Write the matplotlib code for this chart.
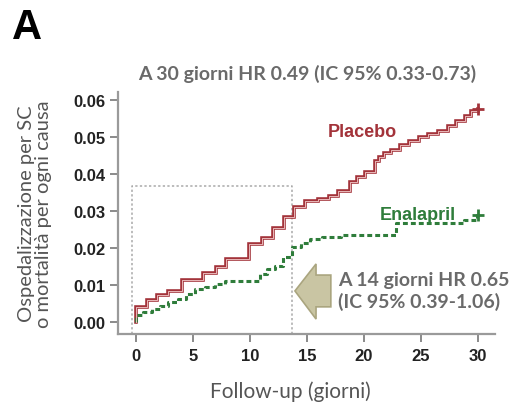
import matplotlib
matplotlib.use("Agg")
import matplotlib.pyplot as plt
from matplotlib.patches import Polygon

# Cumulative event curves (days, cumulative incidence)
placebo_days = [0, 0, 0.95, 1.8, 2.85, 4.0, 5.9, 7.0, 7.9, 9.9, 11.1, 12.0, 13.0,
                13.9, 14.8, 16.0, 16.9, 17.7, 18.8, 19.4, 20.1, 21.0, 21.3, 21.8,
                22.4, 23.2, 24.0, 24.8, 25.6, 26.5, 27.4, 28.1, 28.9, 29.4, 30.0]
placebo_rate = [0.0, 0.004, 0.006, 0.0072, 0.0083, 0.0113, 0.0133, 0.0149, 0.0171,
                0.0212, 0.0227, 0.0254, 0.0284, 0.0312, 0.0326, 0.0334, 0.0341,
                0.0355, 0.0379, 0.0391, 0.0405, 0.0436, 0.0445, 0.0458, 0.0466,
                0.0478, 0.049, 0.0499, 0.0508, 0.0517, 0.0531, 0.0544, 0.0558,
                0.0571, 0.0576]

enalapril_days = [0, 0, 0.65, 1.4, 2.1, 2.8, 3.7, 4.4, 5.2, 6.05, 6.9, 7.8, 10.9,
                  11.5, 12.2, 12.9, 13.7, 14.5, 15.3, 16.3, 18.0, 22.8, 28.8,
                  29.9, 30.0]
enalapril_rate = [0.0, 0.0019, 0.0026, 0.0035, 0.0042, 0.0055, 0.0062, 0.0076,
                  0.0089, 0.0096, 0.0103, 0.0111, 0.013, 0.0143, 0.0152, 0.0175,
                  0.0202, 0.0215, 0.0224, 0.0229, 0.0236, 0.0268, 0.0275, 0.029,
                  0.029]

x_ticks = [0, 5, 10, 15, 20, 25, 30]
y_ticks = [0.00, 0.01, 0.02, 0.03, 0.04, 0.05, 0.06]

# 14-day window box
window_start = -0.35
window_end = 13.7
window_top = 0.0368

red = "#a3333a"
green = "#2f7d3b"
gray_text = "#6a6a6a"
sans = ["Lato", "DejaVu Sans"]

fig = plt.figure(figsize=(5.10, 4.06), dpi=100)
ax = fig.add_axes([0.2314, 0.1749, 0.739, 0.596])

# Placebo: outlined step line
ax.step(placebo_days, placebo_rate, where="post", color=red, lw=2.6,
        solid_joinstyle="miter", zorder=3)
ax.step(placebo_days, placebo_rate, where="post", color="#e9b9b9", lw=0.7,
        zorder=4)
ax.plot(placebo_days[-1], placebo_rate[-1], marker="+", color=red, ms=8,
        mew=2, zorder=5)

# Enalapril: dashed step line
ax.step(enalapril_days, enalapril_rate, where="post", color=green, lw=2.2,
        dashes=(1.6, 1.0), zorder=3)
ax.plot(enalapril_days[-1], enalapril_rate[-1], marker="+", color=green, ms=8,
        mew=2, zorder=5)

ax.set_xlim(-1.58, 31.5)
ax.set_ylim(-0.00324, 0.0622)

# dotted window
ylo = ax.get_ylim()[0]
ax.plot([window_start, window_start, window_end, window_end],
        [ylo, window_top, window_top, ylo],
        color="#aaaaaa", lw=1.1, ls=(0, (1.5, 1.5)), zorder=2, clip_on=False)

ax.spines["top"].set_visible(False)
ax.spines["right"].set_visible(False)
for s in ("left", "bottom"):
    ax.spines[s].set_color("#9a9a9a")
    ax.spines[s].set_linewidth(1.6)

ax.set_xticks(x_ticks)
ax.set_yticks(y_ticks)
ax.set_xticklabels([str(t) for t in x_ticks])
ax.set_yticklabels([f"{t:.2f}" for t in y_ticks])
ax.tick_params(axis="both", direction="out", length=6, width=1.4,
               color="#8a8a8a", labelcolor="#222222")
ax.tick_params(axis="x", pad=4)
ax.tick_params(axis="y", pad=3)
for lab in ax.get_xticklabels() + ax.get_yticklabels():
    lab.set_fontfamily("Liberation Sans")
    lab.set_fontweight("bold")
    lab.set_fontsize(12)

ax.set_xlabel("Follow-up (giorni)", family=sans, fontsize=15, color="#555555")
ax.xaxis.set_label_coords(0.456, -0.19)
ax.set_ylabel("Ospedalizzazione per SC\no mortalità per ogni causa",
              family=sans, fontsize=14.5, color="#555555", linespacing=1.0)
ax.yaxis.set_label_coords(-0.175, 0.5)

# curve labels
ax.text(19.9, 0.0516, "Placebo", color=red, fontsize=13, fontweight="bold",
        family="Liberation Sans", ha="center", va="center")
ax.text(24.7, 0.0292, "Enalapril", color=green, fontsize=13, fontweight="bold",
        family="Liberation Sans", ha="center", va="center")

# block arrow pointing to the 14-day window
arrow = Polygon([(13.95, 0.0084), (15.8, 0.0157), (15.8, 0.0127), (17.1, 0.0127),
                 (17.1, 0.0041), (15.8, 0.0041), (15.8, 0.0008)],
                closed=True, facecolor="#c9c5a3", edgecolor="#aaa57f", lw=1.2,
                zorder=4)
ax.add_patch(arrow)

ax.text(17.7, 0.0116, "A 14 giorni HR 0.65", color=gray_text, fontsize=14,
        fontweight="bold", family=sans, ha="left", va="center", clip_on=False)
ax.text(17.7, 0.0057, "(IC 95% 0.39-1.06)", color=gray_text, fontsize=14,
        fontweight="bold", family=sans, ha="left", va="center", clip_on=False)

fig.text(0.603, 0.818, "A 30 giorni HR 0.49 (IC 95% 0.33-0.73)", color=gray_text,
         fontsize=14, fontweight="bold", family=sans, ha="center", va="center")
fig.text(0.024, 0.93, "A", fontsize=30, fontweight="bold",
         family="Liberation Sans", ha="left", va="center", color="black")

fig.savefig("out.png", dpi=100)
